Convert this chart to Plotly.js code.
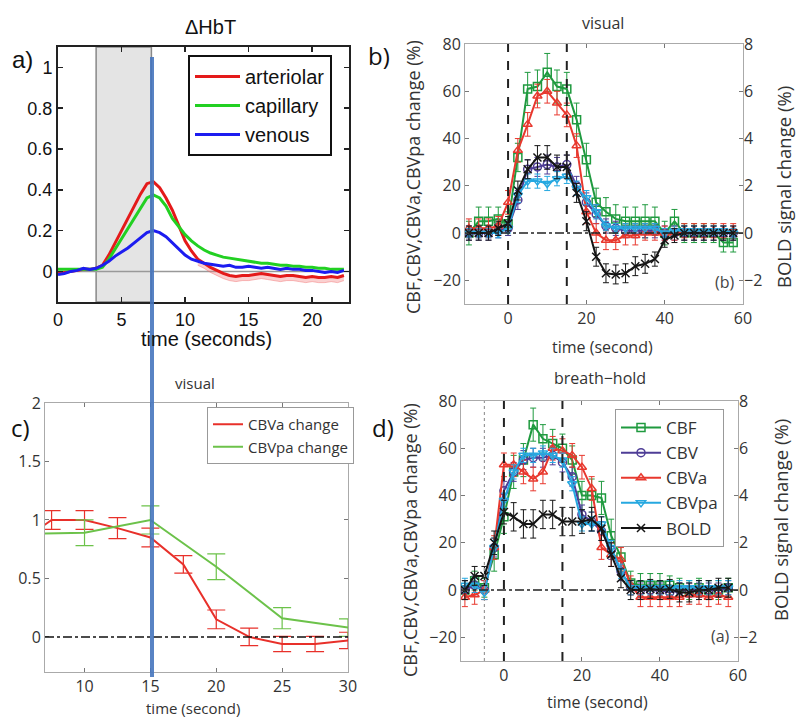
<!DOCTYPE html>
<html>
<head>
<meta charset="utf-8">
<script src="https://cdn.plot.ly/plotly-3.0.1.min.js"></script>
<style>html,body{margin:0;padding:0;background:#fff;} #chart{width:800px;height:726px;}</style>
</head>
<body>
<div id="chart"></div>
<script>
// ---------- Panel a: ΔHbT ----------
const tA = [0,0.5,1,1.5,2,2.5,3,3.5,4,4.5,5,5.5,6,6.5,7,7.5,8,8.5,9,9.5,10,10.5,11,11.5,12,12.5,13,13.5,14,14.5,15,15.5,16,16.5,17,17.5,18,18.5,19,19.5,20,20.5,21,21.5,22,22.5];
const arteriolar = [-0.01,-0.005,0.0,0.005,0.01,0.01,0.015,0.03,0.08,0.14,0.2,0.26,0.32,0.38,0.43,0.44,0.41,0.36,0.3,0.22,0.15,0.1,0.06,0.04,0.02,0.005,-0.01,-0.02,-0.025,-0.02,-0.02,-0.015,-0.01,-0.015,-0.02,-0.025,-0.02,-0.02,-0.025,-0.03,-0.025,-0.03,-0.03,-0.025,-0.03,-0.02];
const capillary = [0.01,0.01,0.01,0.01,0.01,0.01,0.01,0.02,0.06,0.11,0.16,0.21,0.26,0.31,0.36,0.375,0.36,0.32,0.26,0.22,0.18,0.15,0.125,0.105,0.09,0.08,0.07,0.065,0.06,0.055,0.05,0.045,0.04,0.04,0.035,0.03,0.03,0.025,0.025,0.02,0.02,0.015,0.015,0.01,0.01,0.01];
const venous = [-0.015,-0.01,0.0,0.005,0.015,0.01,0.015,0.03,0.05,0.075,0.095,0.115,0.14,0.165,0.19,0.2,0.19,0.17,0.14,0.11,0.08,0.06,0.05,0.04,0.035,0.03,0.025,0.03,0.02,0.02,0.025,0.02,0.015,0.02,0.015,0.01,0.015,0.01,0.01,0.005,0.005,0.0,-0.005,0.0,-0.005,0.005];
const tAlow = [11,11.5,12,12.5,13,13.5,14,14.5,15,15.5,16,16.5,17,17.5,18,18.5,19,19.5,20,20.5,21,21.5,22,22.5];
const arteriolarHigh = [0.06,0.04,0.02,0.005,-0.01,-0.02,-0.025,-0.02,-0.02,-0.015,-0.01,-0.015,-0.02,-0.025,-0.02,-0.02,-0.025,-0.03,-0.025,-0.03,-0.03,-0.025,-0.03,-0.02];
const arteriolarLow = [0.03,0.015,-0.005,-0.02,-0.035,-0.045,-0.05,-0.045,-0.045,-0.04,-0.035,-0.04,-0.045,-0.05,-0.045,-0.045,-0.05,-0.055,-0.05,-0.055,-0.055,-0.05,-0.055,-0.045];

// ---------- Panel b: visual ----------
const tB = [-10,-7.5,-5,-2.5,0,2.5,5,7.5,10,12.5,15,17.5,20,22.5,25,27.5,30,32.5,35,37.5,40,42.5,45,47.5,50,52.5,55,57.5];
const cbfB = [0,5,5,6,4,32,61,62,68,62,61,48,31,13,9,6,5,5,5,5,0,5,0,0,0,0,-4,-4];
const cbfBErr = [5,6,6,5,5,6,7,7,8,7,7,7,7,6,6,6,6,6,7,6,5,5,4,4,4,4,4,4];
const cbvB = [0,0,0,1,2,14,27,28,29,28,29,20,13,8,3,2,1,1,1,1,0,0,0,0,0,0,0,0];
const cbvBErr = [3,3,3,3,3,4,4,4,4,4,4,4,4,4,3,3,3,3,3,3,3,3,3,3,3,3,3,3];
const cbvaB = [2,2,2,3,13,35,46,58,60,55,50,37,9,0,-3,-3,-1,-1,0,0,0,0,1,1,1,1,1,1];
const cbvaBErr = [4,4,4,4,5,5,5,5,5,5,5,5,5,4,4,4,4,4,3,3,3,3,3,3,3,3,3,3];
const cbvpaB = [0,0,0,0,2,16,22,22,21,23,24,19,15,9,3,2,2,2,2,2,0,1,1,1,1,1,1,0];
const cbvpaBErr = [2,2,2,2,2,3,3,3,3,3,3,3,3,3,2,2,2,2,2,2,2,2,2,2,2,2,2,2];
const boldB = [0,0,0,0.2,0.4,1.8,2.7,3.2,3.2,2.8,2.8,1.7,0.5,-1.0,-1.7,-1.75,-1.7,-1.4,-1.3,-1.1,-0.3,-0.1,0,0,0,0,0,0];
const boldBErr = [0.3,0.3,0.3,0.3,0.3,0.4,0.4,0.5,0.5,0.5,0.5,0.4,0.4,0.4,0.4,0.4,0.4,0.4,0.4,0.3,0.3,0.3,0.3,0.3,0.3,0.3,0.3,0.3];

// ---------- Panel c: visual (CBVa / CBVpa) ----------
const tCa = [5,7.5,10,12.5,15,17.5,20,22.5,25,27.5,30];
const cbvaC = [0.8,1.0,1.0,0.93,0.85,0.62,0.15,0.0,-0.06,-0.06,-0.03];
const cbvaCErr = [0.08,0.08,0.08,0.09,0.08,0.075,0.08,0.075,0.065,0.065,0.07];
const tCpa = [5,10,15,20,25,30];
const cbvpaC = [0.88,0.89,1.0,0.6,0.16,0.08];
const cbvpaCErr = [0.1,0.11,0.12,0.11,0.09,0.075];

// ---------- Panel d: breath-hold ----------
const tD = [-10,-7.5,-5,-2.5,0,2.5,5,7.5,10,12.5,15,17.5,20,22.5,25,27.5,30,32.5,35,37.5,40,42.5,45,47.5,50,52.5,55,57.5];
const cbfD = [0,4,1,15,31,50,55,70,64,62,60,55,40,40,39,23,14,3,2,2,2,2,1,0,1,0,0,1];
const cbfDErr = [4,4,4,7,7,7,7,7,6,6,6,6,6,7,7,7,6,5,5,5,5,4,4,4,4,4,4,4];
const cbvD = [0,2,0,18,42,50,55,56,56,57,54,48,32,29,25,17,8,1,0,0,0,-1,0,0,0,0,0,1];
const cbvDErr = [4,4,4,4,4,4,4,4,4,4,4,4,4,4,4,4,4,3,3,3,3,3,3,3,3,3,3,3];
const cbvaD = [-3,-2,0,18,53,53,50,47,50,60,59,57,52,43,18,15,13,2,-3,-3,-3,-3,-3,-2,-2,-3,-2,-3];
const cbvaDErr = [4,4,4,5,5,5,5,5,5,5,5,5,5,5,5,5,5,4,4,4,4,4,4,4,4,4,4,4];
const cbvpaD = [2,2,-1,18,38,50,57,57,58,57,55,45,28,28,28,18,8,1,1,1,1,1,1,1,1,1,1,1];
const cbvpaDErr = [3,3,3,3,3,3,3,3,3,3,3,3,3,3,3,3,3,3,3,3,3,3,3,3,3,3,3,3];
const boldD = [0,0.6,0.6,2.0,3.3,3.1,2.8,2.8,3.2,3.2,2.9,2.9,2.9,3.0,2.6,1.5,0.5,0,0,0.05,0,0.05,-0.1,-0.1,0,0,0.1,0.1];
const boldDErr = [0.4,0.4,0.4,0.5,0.5,0.6,0.6,0.6,0.6,0.6,0.6,0.6,0.5,0.5,0.5,0.5,0.4,0.4,0.4,0.4,0.4,0.4,0.4,0.4,0.4,0.4,0.4,0.4];

const legendNames = ['CBF','CBV','CBVa','CBVpa','BOLD'];

// ---------- styling ----------
const W = 800, H = 726;
const px = x => x / W;
const py = y => 1 - y / H;
const C = {cbf:'#1f9a3f', cbv:'#4e3d96', cbva:'#e8382e', cbvpa:'#26a8e0', bold:'#151515'};
const OS = 'Open Sans, Noto Sans, sans-serif';
const AR = 'Liberation Sans, Arial, sans-serif';

function eb(arr, color){ return {type:'data', array:arr, visible:true, color:color, thickness:1, width:3}; }
function mtrace(x, y, err, name, color, symbol, xa, ya, leg, show){
  return {x:x, y:y, name:name, type:'scatter', mode:'lines+markers', xaxis:xa, yaxis:ya,
    line:{color:color, width:2}, marker:{symbol:symbol, size:8, color:color, line:{color:color, width:1.5}},
    error_y:eb(err, color), showlegend:show, legend:leg};
}

const traces = [];
// panel a band + lines
traces.push({x:tAlow, y:arteriolarHigh, xaxis:'x', yaxis:'y', mode:'lines', line:{width:0, color:'rgba(0,0,0,0)'}, showlegend:false, hoverinfo:'skip'});
traces.push({x:tAlow, y:arteriolarLow, xaxis:'x', yaxis:'y', mode:'lines', fill:'tonexty', fillcolor:'rgba(240,120,120,0.35)', line:{width:0.8, color:'rgba(240,110,110,0.6)'}, showlegend:false, hoverinfo:'skip'});
traces.push({x:tA, y:arteriolar, name:'arteriolar', xaxis:'x', yaxis:'y', mode:'lines', line:{color:'#e41a1a', width:3}, legend:'legend'});
traces.push({x:tA, y:capillary, name:'capillary', xaxis:'x', yaxis:'y', mode:'lines', line:{color:'#22d022', width:3}, legend:'legend'});
traces.push({x:tA, y:venous, name:'venous', xaxis:'x', yaxis:'y', mode:'lines', line:{color:'#1c1cf0', width:3}, legend:'legend'});

// panel b
traces.push(mtrace(tB, cbfB, cbfBErr, legendNames[0], C.cbf, 'square-open', 'x2', 'y2', 'legend3', false));
traces.push(mtrace(tB, cbvB, cbvBErr, legendNames[1], C.cbv, 'circle-open', 'x2', 'y2', 'legend3', false));
traces.push(mtrace(tB, cbvaB, cbvaBErr, legendNames[2], C.cbva, 'triangle-up-open', 'x2', 'y2', 'legend3', false));
traces.push(mtrace(tB, cbvpaB, cbvpaBErr, legendNames[3], C.cbvpa, 'triangle-down-open', 'x2', 'y2', 'legend3', false));
traces.push(mtrace(tB, boldB, boldBErr, legendNames[4], C.bold, 'x-thin', 'x2', 'y3', 'legend3', false));

// panel c
traces.push({x:tCa, y:cbvaC, name:'CBVa change', xaxis:'x3', yaxis:'y4', mode:'lines', line:{color:'#e8302a', width:2}, error_y:{type:'data', array:cbvaCErr, visible:true, color:'#e8302a', thickness:1.2, width:9}, legend:'legend2'});
traces.push({x:tCpa, y:cbvpaC, name:'CBVpa change', xaxis:'x3', yaxis:'y4', mode:'lines', line:{color:'#6cc24a', width:2}, error_y:{type:'data', array:cbvpaCErr, visible:true, color:'#6cc24a', thickness:1.2, width:9}, legend:'legend2'});

// panel d
traces.push(mtrace(tD, cbfD, cbfDErr, legendNames[0], C.cbf, 'square-open', 'x4', 'y5', 'legend3', true));
traces.push(mtrace(tD, cbvD, cbvDErr, legendNames[1], C.cbv, 'circle-open', 'x4', 'y5', 'legend3', true));
traces.push(mtrace(tD, cbvaD, cbvaDErr, legendNames[2], C.cbva, 'triangle-up-open', 'x4', 'y5', 'legend3', true));
traces.push(mtrace(tD, cbvpaD, cbvpaDErr, legendNames[3], C.cbvpa, 'triangle-down-open', 'x4', 'y5', 'legend3', true));
traces.push(mtrace(tD, boldD, boldDErr, legendNames[4], C.bold, 'x-thin', 'x4', 'y6', 'legend3', true));

const tickB = {family:OS, size:16, color:'#333'};
function axB(extra){
  return Object.assign({showgrid:false, zeroline:false, showline:true, linecolor:'#aaa', linewidth:1,
    mirror:'ticks', ticks:'inside', ticklen:4, tickcolor:'#777', tickfont:tickB}, extra);
}

const ann = [];
function text(t, x, y, size, font, color, angle, extra){
  ann.push(Object.assign({text:t, x:px(x), y:py(y), xref:'paper', yref:'paper', showarrow:false,
    xanchor:'center', yanchor:'middle', textangle:angle||0, font:{family:font, size:size, color:color||'#222'}}, extra||{}));
}
// panel a texts
text('ΔHbT', 210, 27, 20, AR, '#111');
text('time (seconds)', 207, 339, 20, AR, '#111');
text('a)', 22, 60, 24, AR, '#111');
// panel b texts
text('visual', 603, 23, 16, OS, '#333');
text('time (second)', 602, 347, 16, OS, '#333');
text('CBF,CBV,CBVa,CBVpa change (%)', 413, 177, 18, OS, '#333', -90);
text('BOLD signal change (%)', 783, 187, 18.5, OS, '#333', -90);
text('(b)', 725, 282, 16, OS, '#444');
text('b)', 379, 55, 24, OS, '#111');
// panel c texts
text('visual', 195, 383, 15, OS, '#333');
text('time (second)', 193, 708, 15, OS, '#333');
text('c)', 20, 427, 24, OS, '#111');
// panel d texts
text('breath−hold', 600, 378, 16, OS, '#333');
text('time (second)', 597, 702, 16, OS, '#333');
text('CBF,CBV,CBVa,CBVpa change (%)', 410, 540, 18, OS, '#333', -90);
text('BOLD signal change (%)', 780, 520, 18.5, OS, '#333', -90);
text('(a)', 720, 636, 16, OS, '#444');
text('d)', 383, 427, 24, OS, '#111');

const shapes = [
  // panel a stimulus shading
  {type:'rect', xref:'x', yref:'y domain', x0:3, x1:7.35, y0:0, y1:1, fillcolor:'#e4e4e4', line:{color:'#888', width:1.5}, layer:'below'},
  {type:'line', xref:'x domain', yref:'y', x0:0, x1:1, y0:0, y1:0, line:{color:'#999', width:1.5}, layer:'below'},
  // panel b reference lines
  {type:'line', xref:'x2', yref:'y2 domain', x0:0, x1:0, y0:0, y1:1, line:{color:'#222', width:2, dash:'dash'}},
  {type:'line', xref:'x2', yref:'y2 domain', x0:15, x1:15, y0:0, y1:1, line:{color:'#222', width:2, dash:'dash'}},
  {type:'line', xref:'x2 domain', yref:'y2', x0:0, x1:1, y0:0, y1:0, line:{color:'#222', width:1.5, dash:'dashdot'}},
  // panel c zero line
  {type:'line', xref:'x3 domain', yref:'y4', x0:0, x1:1, y0:0, y1:0, line:{color:'#111', width:1.5, dash:'dashdot'}},
  // panel d reference lines
  {type:'line', xref:'x4', yref:'y5 domain', x0:-5, x1:-5, y0:0, y1:1, line:{color:'#999', width:1.2, dash:'dot'}},
  {type:'line', xref:'x4', yref:'y5 domain', x0:0, x1:0, y0:0, y1:1, line:{color:'#222', width:2, dash:'dash'}},
  {type:'line', xref:'x4', yref:'y5 domain', x0:15, x1:15, y0:0, y1:1, line:{color:'#222', width:2, dash:'dash'}},
  {type:'line', xref:'x4 domain', yref:'y5', x0:0, x1:1, y0:0, y1:0, line:{color:'#222', width:1.5, dash:'dashdot'}},
  // blue vertical marker line crossing panels a and c
  {type:'line', xref:'paper', yref:'paper', x0:px(152), x1:px(152), y0:py(57), y1:py(677), line:{color:'rgba(70,118,190,0.9)', width:4}, layer:'above'}
];

const layout = {
  width:W, height:H, margin:{l:0, r:0, t:0, b:0}, paper_bgcolor:'#fff', plot_bgcolor:'rgba(0,0,0,0)',
  font:{family:OS, color:'#222'},
  // panel a
  xaxis:{domain:[px(58), px(349)], anchor:'y', range:[0, 22.9], tickvals:[0,5,10,15,20], showgrid:false, zeroline:false,
    showline:true, linecolor:'#222', linewidth:2, mirror:'ticks', ticks:'inside', ticklen:5, tickcolor:'#222', tickwidth:1.5,
    tickfont:{family:AR, size:18, color:'#111'}},
  yaxis:{domain:[py(302), py(47)], anchor:'x', range:[-0.15, 1.1], tickvals:[0,0.2,0.4,0.6,0.8,1], showgrid:false, zeroline:false,
    showline:true, linecolor:'#222', linewidth:2, mirror:'ticks', ticks:'inside', ticklen:5, tickcolor:'#222', tickwidth:1.5,
    tickfont:{family:AR, size:18, color:'#111'}},
  // panel b
  xaxis2:axB({domain:[px(465), px(743)], anchor:'y2', range:[-11, 60], tickvals:[0,20,40,60]}),
  yaxis2:axB({domain:[py(304), py(44)], anchor:'x2', range:[-30, 80], tickvals:[-20,0,20,40,60,80]}),
  yaxis3:axB({anchor:'x2', overlaying:'y2', side:'right', range:[-3, 8], tickvals:[-2,0,2,4,6,8], showline:false}),
  // panel c
  xaxis3:axB({domain:[px(45), px(348)], anchor:'y4', range:[7, 30], tickvals:[10,15,20,25,30]}),
  yaxis4:axB({domain:[py(672), py(403)], anchor:'x3', range:[-0.3, 2], tickvals:[0,0.5,1,1.5,2]}),
  // panel d
  xaxis4:axB({domain:[px(461), px(738)], anchor:'y5', range:[-11, 60], tickvals:[0,20,40,60]}),
  yaxis5:axB({domain:[py(661), py(401)], anchor:'x4', range:[-30, 80], tickvals:[-20,0,20,40,60,80]}),
  yaxis6:axB({anchor:'x4', overlaying:'y5', side:'right', range:[-3, 8], tickvals:[-2,0,2,4,6,8], showline:false}),
  legend:{x:px(188), y:py(55), xanchor:'left', yanchor:'top', bgcolor:'#fff', bordercolor:'#111', borderwidth:2,
    font:{family:AR, size:20, color:'#111'}, traceorder:'normal', itemwidth:45},
  legend2:{x:px(207), y:py(407), xanchor:'left', yanchor:'top', bgcolor:'#fff', bordercolor:'#999', borderwidth:1,
    font:{family:OS, size:15, color:'#333'}, traceorder:'normal'},
  legend3:{x:px(615), y:py(409), xanchor:'left', yanchor:'top', bgcolor:'#fff', bordercolor:'#999', borderwidth:1,
    font:{family:OS, size:17, color:'#333'}, traceorder:'normal', itemwidth:40},
  shapes:shapes,
  annotations:ann
};

Plotly.newPlot('chart', traces, layout, {staticPlot:true, displayModeBar:false});
</script>
</body>
</html>
